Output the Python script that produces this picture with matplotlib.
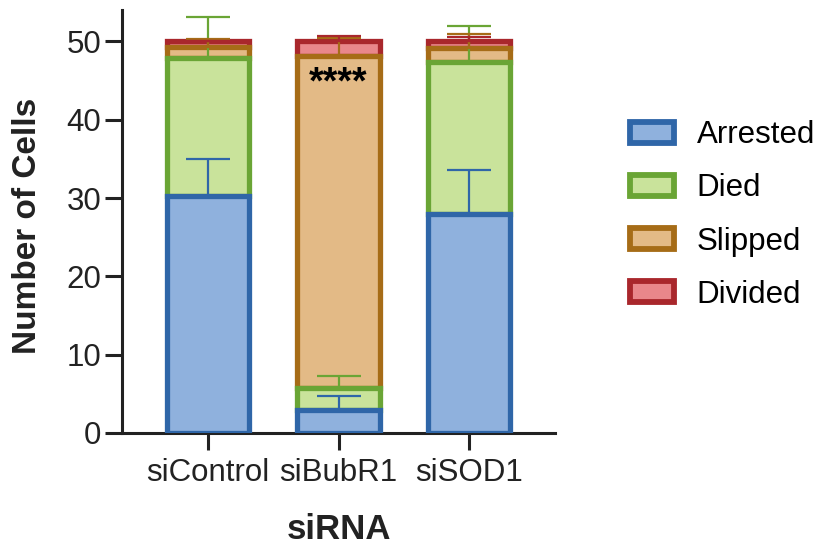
import matplotlib
matplotlib.use("Agg")
import matplotlib.pyplot as plt
from matplotlib.patches import Patch
import numpy as np

plt.rcParams['font.family'] = ['Liberation Sans', 'DejaVu Sans']

# Stacked outcome counts per knockdown (mean) with upward SEM
groups = ["siControl", "siBubR1", "siSOD1"]
outcomes = ["Arrested", "Died", "Slipped", "Divided"]

arrested = [30.3, 3.0, 28.0]
died = [17.6, 2.7, 19.4]
slipped = [1.4, 42.4, 1.8]
divided = [0.7, 1.9, 0.8]

arrested_err = [4.7, 1.7, 5.6]
died_err = [5.2, 1.6, 4.6]
slipped_err = [1.0, 2.3, 1.8]
divided_err = [0.0, 0.7, 0.6]

fills = ["#8fb1dd", "#c9e39b", "#e3ba86", "#e9878b"]
edges = ["#2f66a8", "#6aa535", "#a66c17", "#a9272c"]

series = [arrested, died, slipped, divided]
errors = [arrested_err, died_err, slipped_err, divided_err]

fig = plt.figure(figsize=(8.22, 5.47), dpi=100)
ax = fig.add_axes([122 / 822, 1 - 433 / 547, 433 / 822, 423 / 547])

x = np.arange(len(groups))
width = 0.63
edge_lw = 3.8

bottoms = np.zeros(len(groups))
tops = []
for i, vals in enumerate(series):
    vals = np.asarray(vals)
    ax.bar(x, vals, width=width, bottom=bottoms, color=fills[i],
           edgecolor=edges[i], linewidth=edge_lw, zorder=10 - i)
    bottoms = bottoms + vals
    tops.append(bottoms.copy())

for i in range(len(series)):
    ax.errorbar(x, tops[i], yerr=[np.zeros(len(groups)), errors[i]],
                fmt='none', ecolor=edges[i], elinewidth=1.6, capsize=16,
                capthick=1.6, zorder=20)

ax.text(1, 44.6, "****", ha='center', va='center', fontsize=27,
        fontweight='bold', zorder=25)

ax.set_xlim(-0.66, 2.66)
ax.set_ylim(0, 54)
ax.set_yticks([0, 10, 20, 30, 40, 50])
ax.set_xticks(x)
ax.set_xticklabels(groups)

for s in ['top', 'right']:
    ax.spines[s].set_visible(False)
for s in ['left', 'bottom']:
    ax.spines[s].set_linewidth(2.2)
    ax.spines[s].set_color("#222222")

ax.tick_params(axis='both', direction='out', length=12, width=2.2,
               color="#222222", labelsize=22.5, labelcolor="#222222")
ax.tick_params(axis='x', pad=6)
ax.tick_params(axis='y', pad=3)

ax.set_ylabel("Number of Cells", fontsize=24, fontweight='bold', color="#222222")
ax.yaxis.set_label_coords(-0.182, 0.49)
ax.set_xlabel("siRNA", fontsize=25, fontweight='bold', color="#222222")
ax.xaxis.set_label_coords(0.5, -0.19)

handles = [Patch(facecolor=fills[i], edgecolor=edges[i], linewidth=4.2)
           for i in range(len(outcomes))]
fig.legend(handles, outcomes, loc='center left',
           bbox_to_anchor=(630 / 822, 1 - 215 / 547), frameon=False,
           fontsize=22.5, handlelength=1.41, handleheight=0.65,
           handletextpad=0.72, labelspacing=0.74, borderpad=0,
           borderaxespad=0)

fig.savefig("out.png", dpi=100)
